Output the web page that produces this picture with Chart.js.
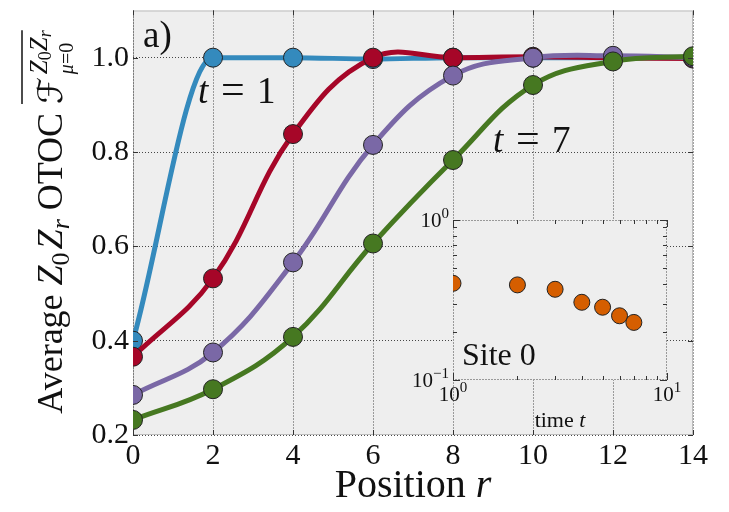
<!DOCTYPE html>
<html>
<head>
<meta charset="utf-8">
<script src="https://cdn.jsdelivr.net/npm/chart.js@4.4.0/dist/chart.umd.min.js"></script>
<style>
  body { margin: 0; background: #fff; }
  #wrap { position: relative; width: 729px; height: 512px; }
  #mainChart { position: absolute; left: 0; top: 0; }
  #insetChart { position: absolute; left: 400px; top: 195px; }
</style>
</head>
<body>
<div id="wrap">
  <canvas id="mainChart" width="729" height="512"></canvas>
  <canvas id="insetChart" width="300" height="245"></canvas>
</div>
<script>
// main panel: average OTOC vs position, one curve per time step
var positions = [0, 2, 4, 6, 8, 10, 12, 14];
var otocT1 = [0.400, 1.000, 1.000, 0.997, 1.000, 1.000, 1.000, 1.000];
var otocT3 = [0.366, 0.532, 0.838, 1.000, 1.000, 1.002, 1.000, 0.998];
var otocT5 = [0.285, 0.375, 0.566, 0.815, 0.962, 1.000, 1.004, 1.000];
var otocT7 = [0.232, 0.297, 0.408, 0.606, 0.783, 0.942, 0.992, 1.003];

var xTicks = [0, 2, 4, 6, 8, 10, 12, 14];
var yTicks = [0.2, 0.4, 0.6, 0.8, 1.0];

// inset: site 0 vs time (log-log)
var insetTimes = [1, 2, 3, 4, 5, 6, 7];
var insetSite0 = [0.402, 0.393, 0.369, 0.306, 0.285, 0.252, 0.229];
var insetMajorX = [1, 10];
var insetMinorX = [2, 3, 4, 5, 6, 7, 8, 9];
var insetMajorY = [0.1, 1];
var insetMinorY = [0.2, 0.3, 0.4, 0.5, 0.6, 0.7, 0.8, 0.9];

var colors = { t1: '#348ABD', t3: '#A60628', t5: '#7A68A6', t7: '#467821', site: '#D55E00' };

function font(size, italic) {
    return (italic ? 'italic ' : '') + size + 'px "Liberation Serif", "DejaVu Serif", serif';
}

// draw a list of text pieces one after another along the baseline
function runsWidth(ctx, runs) {
    var w = 0;
    runs.forEach(function (r) { ctx.font = r.f; w += ctx.measureText(r.t).width + (r.k || 0); });
    return w;
}
function drawRuns(ctx, runs, x, y) {
    var cx = x;
    runs.forEach(function (r) {
        ctx.font = r.f;
        ctx.fillText(r.t, cx, y + (r.dy || 0));
        cx += ctx.measureText(r.t).width + (r.k || 0);
    });
    return cx;
}

function drawYLabel(ctx) {
    var head = [
        {t: 'Average ', f: font(36)},
        {t: 'Z', f: font(36, true)},
        {t: '0', f: font(26), dy: 7, k: 3},
        {t: 'Z', f: font(36, true)},
        {t: 'r', f: font(26, true), dy: 7},
        {t: ' OTOC ', f: font(36)}
    ];
    var F = [{t: '\u2131', f: '34px "DejaVu Sans", sans-serif', k: 3}];
    var sup = [
        {t: 'Z', f: font(25, true), dy: -15},
        {t: '0', f: font(18), dy: -11},
        {t: 'Z', f: font(25, true), dy: -15},
        {t: 'r', f: font(18, true), dy: -11}
    ];
    var sub = [
        {t: '\u03bc', f: font(20, true), dy: 11},
        {t: '=', f: font(20), dy: 11},
        {t: '0', f: font(20), dy: 11}
    ];
    var wHead = runsWidth(ctx, head), wF = runsWidth(ctx, F);
    var wStack = Math.max(runsWidth(ctx, sup), runsWidth(ctx, sub));
    var total = wHead + wF + wStack;
    ctx.save();
    ctx.translate(62, 222);
    ctx.rotate(-Math.PI / 2);
    ctx.fillStyle = '#111';
    ctx.textBaseline = 'alphabetic';
    ctx.textAlign = 'left';
    var x = -total / 2;
    x = drawRuns(ctx, head, x, 0);
    var fStart = x;
    x = drawRuns(ctx, F, x, 0);
    drawRuns(ctx, sup, x, 0);
    drawRuns(ctx, sub, x, 0);
    ctx.strokeStyle = '#111';
    ctx.lineWidth = 1.5;
    ctx.beginPath();
    ctx.moveTo(fStart, -40);
    ctx.lineTo(x + wStack, -40);
    ctx.stroke();
    ctx.restore();
}

// "t = n" style annotation
function drawTimeLabel(ctx, n, x, y) {
    ctx.fillStyle = '#111';
    ctx.font = font(37, true);
    ctx.fillText('t', x, y);
    ctx.font = font(42);
    ctx.fillText('=', x + 23, y);
    ctx.font = font(37);
    ctx.fillText(String(n), x + 59, y);
}

function drawSci(ctx, exp, x, y, align) {
    ctx.font = font(21);
    var wb = ctx.measureText('10').width;
    ctx.font = font(15);
    var we = ctx.measureText(exp).width;
    var start = align === 'right' ? x - wb - we : x - (wb + we) / 2;
    ctx.font = font(21);
    ctx.fillText('10', start, y);
    ctx.font = font(15);
    ctx.fillText(exp, start + wb, y - 9);
}

var mainDecor = {
    id: 'mainDecor',
    beforeDraw: function (chart) {
        var a = chart.chartArea, ctx = chart.ctx;
        ctx.save();
        ctx.fillStyle = '#eeeeee';
        ctx.fillRect(a.left, a.top, a.right - a.left, a.bottom - a.top);
        ctx.strokeStyle = '#bcbcbc';
        ctx.lineWidth = 1;
        ctx.strokeRect(a.left + 0.5, a.top + 0.5, a.right - a.left - 1, a.bottom - a.top - 1);
        ctx.restore();
    },
    afterDraw: function (chart) {
        var ctx = chart.ctx, a = chart.chartArea;
        var xs = chart.scales.x, ys = chart.scales.y;
        ctx.save();
        // small inward ticks on all four sides
        ctx.strokeStyle = '#333';
        ctx.lineWidth = 1;
        ctx.beginPath();
        xTicks.forEach(function (v) {
            var px = Math.round(xs.getPixelForValue(v)) + 0.5;
            ctx.moveTo(px, a.bottom); ctx.lineTo(px, a.bottom - 5);
            ctx.moveTo(px, a.top); ctx.lineTo(px, a.top + 5);
        });
        yTicks.forEach(function (v) {
            var py = Math.round(ys.getPixelForValue(v)) + 0.5;
            ctx.moveTo(a.left, py); ctx.lineTo(a.left + 5, py);
            ctx.moveTo(a.right, py); ctx.lineTo(a.right - 5, py);
        });
        ctx.stroke();

        ctx.textBaseline = 'alphabetic';
        ctx.textAlign = 'left';
        ctx.fillStyle = '#111';
        var title = [{t: 'Position ', f: font(40)}, {t: 'r', f: font(40, true)}];
        var w = runsWidth(ctx, title);
        drawRuns(ctx, title, (a.left + a.right) / 2 - w / 2, 497);
        drawYLabel(ctx);
        ctx.font = font(37);
        ctx.fillText('a)', 143, 47);
        drawTimeLabel(ctx, 1, 198, 103);
        drawTimeLabel(ctx, 7, 493, 152);
        ctx.restore();
    }
};

function series(data, color, order, mode) {
    return {
        data: data.map(function (v, i) { return {x: positions[i], y: v}; }),
        borderColor: color,
        backgroundColor: color,
        borderWidth: 5,
        pointRadius: 9.5,
        pointBackgroundColor: color,
        pointBorderColor: '#222',
        pointBorderWidth: 1,
        tension: 0.4,
        cubicInterpolationMode: mode || 'default',
        order: order,
        clip: 0
    };
}

var tickFont = {family: '"Liberation Serif", serif', size: 30};

new Chart(document.getElementById('mainChart').getContext('2d'), {
    type: 'line',
    data: {
        datasets: [
            series(otocT1, colors.t1, 3, 'monotone'),
            series(otocT3, colors.t3, 2),
            series(otocT5, colors.t5, 1),
            series(otocT7, colors.t7, 0)
        ]
    },
    options: {
        responsive: false,
        animation: false,
        devicePixelRatio: 1,
        events: [],
        layout: { padding: { left: 0, right: 36, top: 8, bottom: 0 } },
        plugins: { legend: { display: false }, tooltip: { enabled: false } },
        scales: {
            x: {
                type: 'linear', min: 0, max: 14, z: 1,
                afterBuildTicks: function (s) { s.ticks = xTicks.map(function (v) { return {value: v}; }); },
                afterFit: function (s) { s.height = 77; s.paddingLeft = 0; s.paddingRight = 0; },
                grid: { color: 'rgba(40,40,40,0.85)', lineWidth: 1, drawTicks: false },
                border: { display: false, dash: [1, 2] },
                ticks: { font: tickFont, color: '#111', padding: 3, maxRotation: 0, autoSkip: false }
            },
            y: {
                type: 'linear', min: 0.2, max: 1.1, z: 1,
                afterBuildTicks: function (s) { s.ticks = yTicks.map(function (v) { return {value: v}; }); },
                afterFit: function (s) { s.width = 133; s.paddingTop = 0; s.paddingBottom = 0; },
                grid: { color: 'rgba(40,40,40,0.85)', lineWidth: 1, drawTicks: false },
                border: { display: false, dash: [1, 2] },
                ticks: {
                    font: tickFont, color: '#111', padding: 4,
                    callback: function (v) { return v.toFixed(1); }
                }
            }
        }
    },
    plugins: [mainDecor]
});

var insetDecor = {
    id: 'insetDecor',
    beforeDraw: function (chart) {
        var a = chart.chartArea, ctx = chart.ctx;
        var xs = chart.scales.x, ys = chart.scales.y;
        ctx.save();
        ctx.fillStyle = '#eeeeee';
        ctx.fillRect(a.left, a.top, a.right - a.left, a.bottom - a.top);
        ctx.strokeStyle = '#444';
        ctx.lineWidth = 1;
        ctx.setLineDash([1, 2]);
        ctx.strokeRect(a.left + 0.5, a.top + 0.5, a.right - a.left - 1, a.bottom - a.top - 1);
        ctx.setLineDash([]);
        ctx.strokeStyle = '#333';
        ctx.beginPath();
        function xTick(v, len) {
            var px = Math.round(xs.getPixelForValue(v)) + 0.5;
            ctx.moveTo(px, a.bottom); ctx.lineTo(px, a.bottom - len);
            ctx.moveTo(px, a.top); ctx.lineTo(px, a.top + len);
        }
        function yTick(v, len) {
            var py = Math.round(ys.getPixelForValue(v)) + 0.5;
            ctx.moveTo(a.left, py); ctx.lineTo(a.left + len, py);
            ctx.moveTo(a.right, py); ctx.lineTo(a.right - len, py);
        }
        insetMajorX.forEach(function (v) { xTick(v, 7); });
        insetMinorX.forEach(function (v) { xTick(v, 4); });
        insetMajorY.forEach(function (v) { yTick(v, 7); });
        insetMinorY.forEach(function (v) { yTick(v, 4); });
        ctx.stroke();
        ctx.restore();
    },
    afterDraw: function (chart) {
        var a = chart.chartArea, ctx = chart.ctx;
        var xs = chart.scales.x, ys = chart.scales.y;
        ctx.save();
        ctx.fillStyle = '#111';
        ctx.textBaseline = 'alphabetic';
        ctx.textAlign = 'left';
        drawSci(ctx, '0', a.left - 4, ys.getPixelForValue(1) + 7, 'right');
        drawSci(ctx, '\u22121', a.left - 4, ys.getPixelForValue(0.1) + 7, 'right');
        drawSci(ctx, '0', xs.getPixelForValue(1), a.bottom + 21, 'center');
        drawSci(ctx, '1', xs.getPixelForValue(10), a.bottom + 21, 'center');
        ctx.font = font(32);
        ctx.fillText('Site 0', 62, 170);
        var tl = [{t: 'time ', f: font(22)}, {t: 't', f: font(22, true)}];
        var w = runsWidth(ctx, tl);
        drawRuns(ctx, tl, (a.left + a.right) / 2 - w / 2, 232);
        ctx.restore();
    }
};

new Chart(document.getElementById('insetChart').getContext('2d'), {
    type: 'scatter',
    data: {
        datasets: [{
            data: insetTimes.map(function (t, i) { return {x: t, y: insetSite0[i]}; }),
            pointRadius: 8,
            pointBackgroundColor: colors.site,
            pointBorderColor: '#222',
            pointBorderWidth: 1,
            clip: 0
        }]
    },
    options: {
        responsive: false,
        animation: false,
        devicePixelRatio: 1,
        events: [],
        layout: { padding: { left: 0, right: 33, top: 25, bottom: 0 } },
        plugins: { legend: { display: false }, tooltip: { enabled: false } },
        scales: {
            x: {
                type: 'logarithmic', min: 1, max: 10,
                grid: { display: false }, border: { display: false }, ticks: { display: false },
                afterFit: function (s) { s.height = 60; s.paddingLeft = 0; s.paddingRight = 0; }
            },
            y: {
                type: 'logarithmic', min: 0.1, max: 1,
                grid: { display: false }, border: { display: false }, ticks: { display: false },
                afterFit: function (s) { s.width = 53; s.paddingTop = 0; s.paddingBottom = 0; }
            }
        }
    },
    plugins: [insetDecor]
});
</script>
</body>
</html>
